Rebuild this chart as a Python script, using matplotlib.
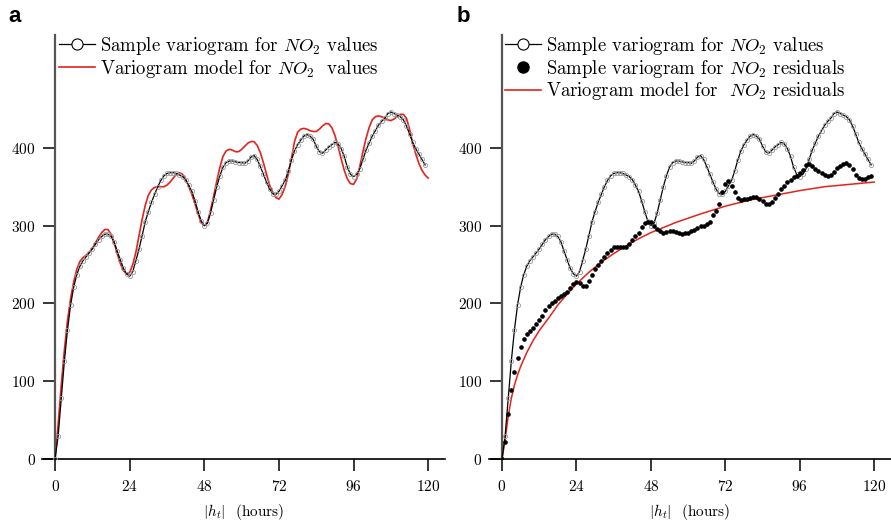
import numpy as np
import matplotlib
matplotlib.use("Agg")
import matplotlib.pyplot as plt
from matplotlib.lines import Line2D

plt.rcParams['font.family'] = 'cmr10'
plt.rcParams['mathtext.fontset'] = 'cm'
plt.rcParams['axes.formatter.use_mathtext'] = True
plt.rcParams['font.size'] = 11

# lag in hours for the sample variograms
lags = np.arange(120)

# sample variogram for NO2 values (same in both panels)
sample_values = [0, 30, 78, 126, 166, 198, 221, 237, 248, 255,
                 260, 265, 270, 276, 282, 286, 289, 289, 286, 279,
                 267, 256, 245, 238, 235, 241, 255, 270, 287, 305,
                 318, 330, 340, 350, 358, 364, 367, 368, 368, 367,
                 365, 363, 359, 352, 344, 332, 318, 306, 300, 303,
                 316, 333, 350, 364, 375, 381, 383, 383, 382, 381,
                 381, 380, 383, 388, 390, 385, 376, 366, 356, 347,
                 341, 340, 344, 351, 358, 370, 384, 396, 404, 410,
                 415, 417, 415, 411, 402, 395, 393, 397, 401, 404,
                 407, 405, 399, 389, 375, 366, 363, 366, 373, 385,
                 397, 406, 415, 422, 429, 434, 438, 444, 446, 444,
                 442, 440, 436, 428, 418, 407, 399, 392, 385, 378]

# fitted model for NO2 values (panel a)
model_a_lags = np.arange(121)
model_a = [0, 45, 95, 140, 178, 206, 228, 244, 254, 259,
           262, 266, 271, 278, 285, 291, 295, 295, 289, 278,
           264, 251, 242, 238, 240, 250, 266, 287, 308, 326,
           339, 346, 349, 350, 350, 350, 352, 356, 361, 366,
           368, 366, 359, 350, 340, 328, 315, 304, 300, 304,
           320, 338, 357, 375, 389, 396, 398, 397, 395, 395,
           398, 402, 406, 408, 408, 403, 394, 381, 366, 352,
           343, 336, 334, 340, 350, 366, 386, 408, 420, 424,
           425, 424, 422, 421, 421, 424, 428, 431, 431, 426,
           416, 402, 386, 371, 360, 354, 353, 360, 376, 395,
           412, 426, 436, 440, 441, 440, 438, 436, 435, 437,
           440, 443, 443, 438, 424, 406, 392, 380, 371, 365,
           361]

# sample variogram for NO2 residuals (panel b)
residuals = [0, 22, 58, 89, 112, 130, 144, 154, 161, 165,
             169, 174, 179, 184, 191, 197, 200, 203, 207, 210,
             212, 215, 220, 225, 228, 226, 223, 223, 229, 236,
             244, 249, 255, 260, 265, 269, 272, 273, 273, 273,
             272, 276, 281, 287, 291, 298, 303, 304, 304, 300,
             296, 293, 291, 292, 293, 293, 292, 290, 289, 290,
             291, 293, 294, 297, 299, 300, 302, 305, 313, 319,
             328, 343, 353, 357, 351, 343, 336, 333, 334, 334,
             335, 337, 337, 334, 331, 328, 328, 330, 335, 341,
             347, 351, 356, 359, 362, 364, 367, 372, 378, 379,
             376, 373, 370, 367, 365, 364, 365, 369, 374, 377,
             379, 380, 378, 373, 365, 361, 360, 360, 362, 364]

# fitted model for NO2 residuals (panel b)
model_b_lags = [0, 1, 2, 3, 4, 5, 6, 8, 10, 12, 15, 18, 21, 24, 28, 32, 36,
                40, 44, 48, 56, 64, 72, 80, 88, 96, 104, 112, 120]
model_b = [0, 25, 55, 78, 95, 108, 119, 137, 152, 165, 181, 198, 212, 225,
           240, 253, 264, 274, 283, 291, 304, 315, 325, 333, 339, 345, 350,
           353, 356]

xticks = [0, 24, 48, 72, 96, 120]
yticks = [0, 100, 200, 300, 400]
red = '#e3231c'

fig = plt.figure(figsize=(8.91, 5.25), dpi=100)
ax_a = fig.add_axes([42 / 891, 66 / 525, 403 / 891, 424 / 525])
ax_b = fig.add_axes([489 / 891, 66 / 525, 402 / 891, 424 / 525])

for ax in (ax_a, ax_b):
    ax.plot(lags, sample_values, color='black', lw=0.9, marker='o', ms=3,
            mfc='none', mec='0.6', mew=0.6, zorder=3)
    ax.set_xlim(-4.2, 125.4)
    ax.set_ylim(0, 545)
    ax.spines['top'].set_visible(False)
    ax.spines['right'].set_visible(False)
    ax.spines['left'].set_position(('data', 0))
    ax.spines['left'].set_color('#555555')
    ax.spines['left'].set_linewidth(1.6)
    ax.spines['bottom'].set_linewidth(1.2)
    ax.set_xticks(xticks)
    ax.set_yticks(yticks)
    ax.tick_params(axis='x', direction='out', length=8.5, width=1.1, pad=6)
    ax.tick_params(axis='y', direction='out', length=9, width=1.1, pad=5)
    ax.set_xlabel(r'$|h_t|$  (hours)', labelpad=6)

ax_a.plot(model_a_lags, model_a, color=red, lw=1.2, zorder=2)
ax_b.plot(lags, residuals, linestyle='none', marker='o', ms=2.3,
          color='black', zorder=4)
ax_b.plot(model_b_lags, model_b, color=red, lw=1.1, zorder=2)

h_sample = Line2D([], [], color='black', lw=0.9, marker='o', ms=8,
                  mfc='white', mec='black', mew=0.8)
h_resid = Line2D([], [], linestyle='none', marker='o', ms=8, color='black')
h_model = Line2D([], [], color=red, lw=1.2)

leg_kw = dict(loc='upper left', frameon=False, borderpad=0, borderaxespad=0,
              handlelength=1.9, handletextpad=0.27, labelspacing=0.04,
              fontsize=13.5)
fig.legend([h_sample, h_model],
           [r'Sample variogram for $NO_2$ values',
            r'Variogram model for $NO_2$  values'],
           bbox_to_anchor=(59 / 891, 1 - 35 / 525), **leg_kw)
fig.legend([h_sample, h_resid, h_model],
           [r'Sample variogram for $NO_2$ values',
            r'Sample variogram for $NO_2$ residuals',
            r'Variogram model for  $NO_2$ residuals'],
           bbox_to_anchor=(505 / 891, 1 - 35 / 525), **leg_kw)

fig.text(8 / 891, 1 - 17 / 525, 'a', family='Liberation Sans',
         fontweight='bold', fontsize=16, va='center', ha='left')
fig.text(457 / 891, 1 - 17 / 525, 'b', family='Liberation Sans',
         fontweight='bold', fontsize=16, va='center', ha='left')

fig.savefig('out.png', dpi=100)
